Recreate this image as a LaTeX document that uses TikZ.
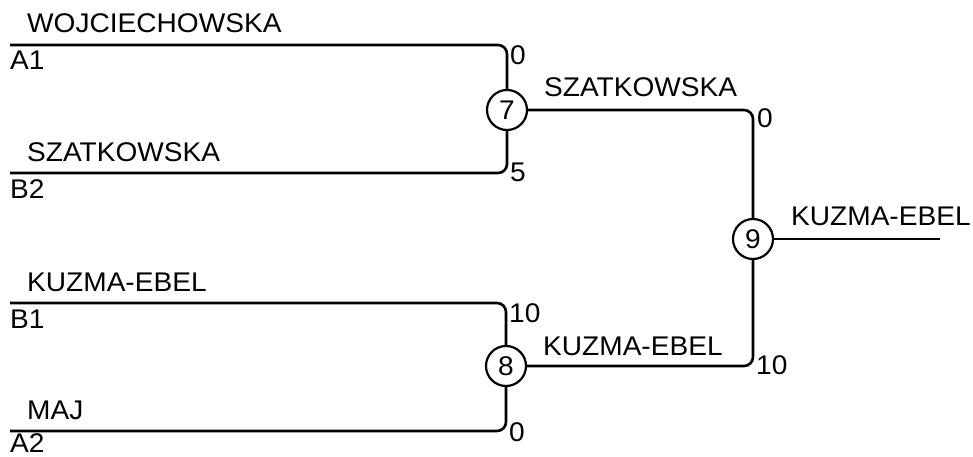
\documentclass[tikz,border=0pt]{standalone}
\usepackage{fontspec}
\setmainfont{Liberation Sans}
\newcommand{\lbl}[1]{\scalebox{1.04}[1]{#1}}
\begin{document}
\begin{tikzpicture}[x=1pt,y=-1pt,
  txt/.style={anchor=base west,inner sep=0pt,font=\fontsize{27}{30}\selectfont},
  match/.style={draw,circle,line width=2.2pt,minimum size=40pt,inner sep=0pt,font=\fontsize{27}{30}\selectfont},
  wire/.style={line width=2.6pt,rounded corners=9pt}]
\useasboundingbox (0,0) rectangle (973,457);
% match circles
\node[match] (c7) at (507,110) {\lbl{7}};
\node[match] (c8) at (506,366) {\lbl{8}};
\node[match] (c9) at (753,239) {\lbl{9}};
% line starts
\coordinate (a1) at (10,45);
\coordinate (b2) at (10,173);
\coordinate (b1) at (10,303);
\coordinate (a2) at (10,431);
\coordinate (fin) at (940,239);
% connectors
\draw[wire] (a1) -| (c7.north);
\draw[wire] (b2) -| (c7.south);
\draw[wire] (b1) -| (c8.north);
\draw[wire] (a2) -| (c8.south);
\draw[wire] (c7.east) -| (c9.north);
\draw[wire] (c8.east) -| (c9.south);
\draw[wire] (c9.east) -- (fin);
% player names
\node[txt] (nwoj) at (27,33) {\lbl{WOJCIECHOWSKA}};
\node[txt] (na1) at (10,70) {\lbl{A1}};
\node[txt] (nsz) at (27,161) {\lbl{SZATKOWSKA}};
\node[txt] (nb2) at (10,198) {\lbl{B2}};
\node[txt] (nku) at (27,291) {\lbl{KUZMA-EBEL}};
\node[txt] (nb1) at (10,328) {\lbl{B1}};
\node[txt] (nmaj) at (27,419) {\lbl{MAJ}};
\node[txt] (na2) at (10,452) {\lbl{A2}};
% winners
\node[txt] (w7) at (544,97) {\lbl{SZATKOWSKA}};
\node[txt] (w8) at (543,355) {\lbl{KUZMA-EBEL}};
\node[txt] (w9) at (791,225) {\lbl{KUZMA-EBEL}};
% scores
\node[txt] (s1) at (510,65) {\lbl{0}};
\node[txt] (s2) at (510,182) {\lbl{5}};
\node[txt] (s3) at (509,322) {\lbl{10}};
\node[txt] (s4) at (509,441) {\lbl{0}};
\node[txt] (s5) at (757,128) {\lbl{0}};
\node[txt] (s6) at (756,374) {\lbl{10}};
\end{tikzpicture}
\end{document}
